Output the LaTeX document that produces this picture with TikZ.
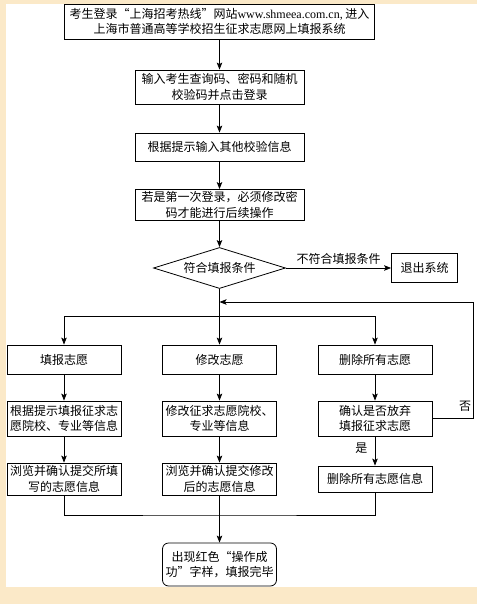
\documentclass[tikz,border=0pt]{standalone}
\usepackage{fontspec}
\setmainfont{Noto Sans CJK SC}
\newfontfamily\latinfont{Liberation Serif}
\usetikzlibrary{shapes.geometric, arrows.meta}
\definecolor{pagebg}{HTML}{FBE9C8}

\begin{document}
\begin{tikzpicture}[->,>={Stealth[length=7pt,width=5.5pt,inset=1.5pt]},auto,x=1pt,y=1pt,line width=0.8pt,
  font=\fontsize{12}{15.5}\selectfont,
  box/.style={draw,rectangle,align=center,inner sep=1pt,minimum width=114pt},
  choice/.style={draw,diamond,aspect=3.2,inner sep=0pt,minimum width=132pt,minimum height=41pt},
  finish/.style={box,rounded corners=6pt}]

        \useasboundingbox (0,0) rectangle (477,-604);
        \fill[pagebg,-] (0,0) rectangle (477,-604);
        \fill[white,-] (6,-4) rectangle (477,-587);

        \node[box, minimum width=310pt, minimum height=35pt] (login) at (219.5,-21.5) {考生登录“上海招考热线”网站{\latinfont www.shmeea.com.cn,} 进入\\上海市普通高等学校招生征求志愿网上填报系统};
        \node[box, minimum width=169pt, minimum height=34pt] (query) [below of = login, node distance=65.5pt] {输入考生查询码、密码和随机\\校验码并点击登录};
        \node[box, minimum width=169pt, minimum height=28pt] (extra) [below of = query, node distance=60pt] {根据提示输入其他校验信息};
        \node[box, minimum width=169pt, minimum height=31pt] (reset) [below of = extra, node distance=58pt] {若是第一次登录，必须修改密\\码才能进行后续操作};
        \node[choice] (check) [below of = reset, node distance=63pt] {符合填报条件};
        \node[box, minimum width=66pt, minimum height=29pt] (quit) [right of = check, node distance=205pt] {退出系统};

        \coordinate[below of = check, node distance=34pt] (back);
        \coordinate[below of = check, node distance=48pt] (split);

        \node[box, minimum height=29pt] (modify) [below of = check, node distance=91.5pt] {修改志愿};
        \node[box, minimum height=29pt] (enroll) [left of = modify, node distance=155.5pt] {填报志愿};
        \node[box, minimum height=29pt] (wipe) [right of = modify, node distance=155.5pt] {删除所有志愿};

        \node[box, minimum height=35pt] (editinfo) [below of = modify, node distance=59pt] {修改征求志愿院校、\\专业等信息};
        \node[box, minimum height=35pt] (fillinfo) [left of = editinfo, node distance=155.5pt] {根据提示填报征求志\\愿院校、专业等信息};
        \node[box, minimum height=35pt] (confirm) [right of = editinfo, node distance=155.5pt] {确认是否放弃\\填报征求志愿};

        \node[box, minimum height=32pt] (browsemod) [below of = editinfo, node distance=60.5pt] {浏览并确认提交修改\\后的志愿信息};
        \node[box, minimum height=32pt] (browse) [left of = browsemod, node distance=155.5pt] {浏览并确认提交所填\\写的志愿信息};
        \node[box, minimum height=26pt] (wipeinfo) [right of = browsemod, node distance=155.5pt] {删除所有志愿信息};

        \coordinate[below of = browsemod, node distance=36pt] (join);
        \node[finish, minimum height=43pt] (done) [below of = browsemod, node distance=85.5pt] {出现红色“操作成\\功”字样，填报完毕};

        \path
        (login) edge (query)
        (query) edge (extra)
        (extra) edge (reset)
        (reset) edge (check)
        (check) edge node[above] {不符合填报条件} (quit)
                edge (modify)
        (enroll) edge (fillinfo)
        (fillinfo) edge (browse)
        (modify) edge (editinfo)
        (editinfo) edge (browsemod)
        (wipe) edge (confirm)
        (confirm) edge node[swap, xshift=-4pt, yshift=3pt] {是} (wipeinfo)
        (browsemod) edge (done)
        ;

        \draw (split) -| (enroll);
        \draw (split) -| (wipe);
        \draw (confirm.east) -- ++(41,0) node[above left, inner sep=2pt, yshift=5pt] {否} |- (back);
        \draw[-] (browse) |- (join) -| (wipeinfo);
    \end{tikzpicture}
\end{document}
